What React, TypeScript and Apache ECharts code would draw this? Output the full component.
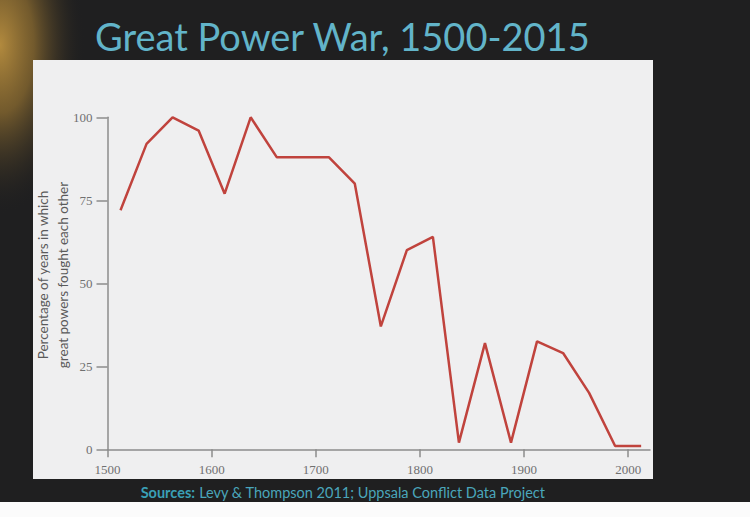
import React, { useEffect, useRef } from "react";
import * as echarts from "echarts";

const years = [1512.5, 1537.5, 1562.5, 1587.5, 1612.5, 1637.5, 1662.5, 1687.5, 1712.5, 1737.5, 1762.5, 1787.5, 1812.5, 1837.5, 1862.5, 1887.5, 1912.5, 1937.5, 1962.5, 1987.5, 2012.5];
const percentWar = [72, 92, 100, 96, 77, 100, 88, 88, 88, 80, 37, 60, 64, 2, 32, 2, 32.5, 29, 17, 1, 1];
const xTickValues = [1500, 1600, 1700, 1800, 1900, 2000];
const yTickValues = [0, 25, 50, 75, 100];

const titleText = "Great Power War, 1500-2015";
const yAxisTitle = "Percentage of years in which\ngreat powers fought each other";
const sourcesLabel = "Sources:";
const sourcesText = " Levy & Thompson 2011; Uppsala Conflict Data Project";

export default function App() {
  const ref = useRef<HTMLDivElement>(null);
  useEffect(() => {
    if (!ref.current) return;
    const chart = echarts.init(ref.current, null, { renderer: "svg" });
    chart.setOption({
      animation: false,
      backgroundColor: "#1f1f20",
      graphic: [
        {
          type: "ellipse",
          z: -10,
          shape: { cx: 0, cy: 45, rx: 85, ry: 170 },
          style: {
            fill: new echarts.graphic.RadialGradient(0.5, 0.5, 0.5, [
              { offset: 0, color: "rgba(178,138,62,1)" },
              { offset: 0.4, color: "rgba(150,115,50,0.7)" },
              { offset: 1, color: "rgba(31,31,32,0)" },
            ]),
          },
        },
        {
          type: "rect",
          z: -5,
          shape: { x: 0, y: 502, width: 750, height: 15 },
          style: { fill: "#fbfbfb" },
        },
        {
          type: "rect",
          z: -5,
          shape: { x: 33, y: 60, width: 620, height: 419 },
          style: { fill: "#efeff0" },
        },
        {
          type: "text",
          x: 95,
          y: 36,
          style: {
            text: titleText,
            fill: "#62b4c9",
            font: "38px Lato",
            verticalAlign: "middle",
            align: "left",
          },
        },
        {
          type: "text",
          x: 53,
          y: 275,
          rotation: Math.PI / 2,
          style: {
            text: yAxisTitle,
            fill: "#5a5a5a",
            font: "13.5px Lato",
            lineHeight: 20,
            align: "center",
            verticalAlign: "middle",
          },
        },
        {
          type: "text",
          x: 343,
          y: 492,
          style: {
            text: "{b|" + sourcesLabel + "}{r|" + sourcesText + "}",
            align: "center",
            verticalAlign: "middle",
            rich: {
              b: { fill: "#3a9fb6", font: "bold 14.5px Lato" },
              r: { fill: "#4aa6bb", font: "14.5px Lato" },
            },
          },
        },
      ],
      grid: { left: 107.5, right: 100, top: 117.3, bottom: 67.7, containLabel: false },
      xAxis: {
        type: "value",
        min: 1500,
        max: 2021,
        interval: 100,
        axisLine: { show: true, lineStyle: { color: "#8c8c8c", width: 1.5 } },
        axisTick: { show: true, length: 8, customValues: xTickValues, lineStyle: { color: "#8c8c8c", width: 1.5 } },
        axisLabel: {
          customValues: xTickValues,
          formatter: (v: number) => String(v),
          color: "#707070",
          fontFamily: "Liberation Serif",
          fontSize: 13,
          margin: 14,
        },
        splitLine: { show: false },
      },
      yAxis: {
        type: "value",
        min: 0,
        max: 100,
        interval: 25,
        axisLine: { show: true, lineStyle: { color: "#8c8c8c", width: 1.5 } },
        axisTick: { show: true, length: 11, customValues: yTickValues, lineStyle: { color: "#8c8c8c", width: 1.5 } },
        axisLabel: {
          customValues: yTickValues,
          formatter: (v: number) => String(v),
          color: "#707070",
          fontFamily: "Liberation Serif",
          fontSize: 13,
          margin: 15,
        },
        splitLine: { show: false },
      },
      series: [
        {
          type: "line",
          data: years.map((y, i) => [y, percentWar[i]]),
          showSymbol: false,
          symbol: "none",
          lineStyle: { color: "#c0433d", width: 2.5 },
        },
      ],
    });
    return () => chart.dispose();
  }, []);
  return <div ref={ref} style={{ position: "absolute", left: 0, top: 0, width: 750, height: 517 }} />;
}
